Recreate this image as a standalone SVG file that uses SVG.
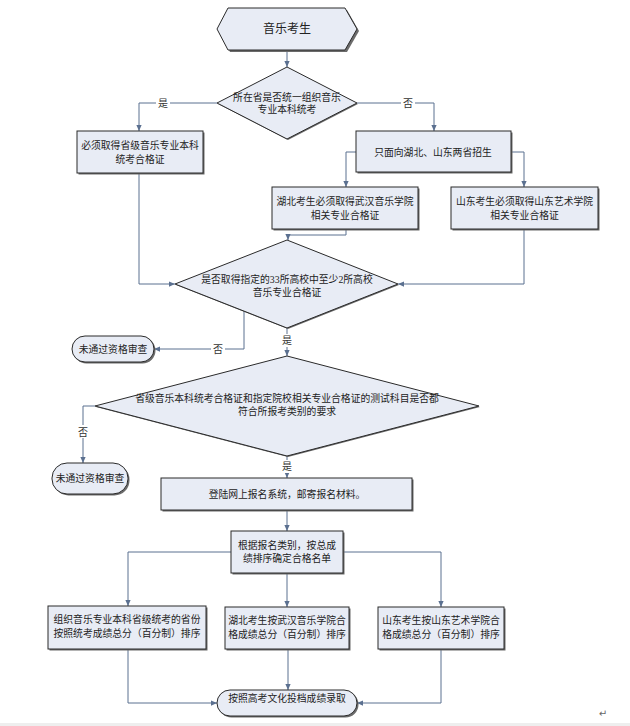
<svg xmlns="http://www.w3.org/2000/svg" width="630" height="726" viewBox="0 0 630 726">
<defs>
<style>
.sh{fill:#6b6b6b;stroke:none}
.nd{fill:#e8ecf5;stroke:#2a2a2a;stroke-width:1}
.t{font-family:"Liberation Serif","Noto Sans CJK SC",serif;font-size:9.8px;fill:#222;text-anchor:middle}
.big{font-size:12px}
.lbl{font-family:"Liberation Serif","Noto Sans CJK SC",serif;font-size:10px;fill:#333;text-anchor:middle}
.c{fill:none;stroke:#5b7090;stroke-width:1}
.bg{fill:#fff}
</style>
<marker id="ah" viewBox="0 0 8 8" refX="8" refY="4" markerWidth="6" markerHeight="6" orient="auto" markerUnits="userSpaceOnUse">
<path d="M0,0.5 L8,4 L0,7.5 Z" fill="#5b7090"/>
</marker>
</defs>
<rect x="0" y="0" width="630" height="726" fill="#fff"/>
<rect x="0" y="723" width="630" height="3" fill="#eeeeee"/>

<g id="connectors">
<path class="c" d="M287,50 V67" marker-end="url(#ah)"/>
<path class="c" d="M217,103 H139 V131" marker-end="url(#ah)"/>
<path class="c" d="M357,103 H434 V131" marker-end="url(#ah)"/>
<path class="c" d="M356,152 H346 V187" marker-end="url(#ah)"/>
<path class="c" d="M511,152 H524 V187" marker-end="url(#ah)"/>
<path class="c" d="M346,229 V235 H288 V240" marker-end="url(#ah)"/>
<path class="c" d="M139,173 V284 H175" marker-end="url(#ah)"/>
<path class="c" d="M524,229 V284 H398" marker-end="url(#ah)"/>
<path class="c" d="M244,311 V349 H154" marker-end="url(#ah)"/>
<path class="c" d="M287,328 V356" marker-end="url(#ah)"/>
<path class="c" d="M95,406 H83 V463" marker-end="url(#ah)"/>
<path class="c" d="M287,456 V478" marker-end="url(#ah)"/>
<path class="c" d="M287,510 V531" marker-end="url(#ah)"/>
<path class="c" d="M231,552 H128 V606" marker-end="url(#ah)"/>
<path class="c" d="M287,573 V607" marker-end="url(#ah)"/>
<path class="c" d="M343,552 H441 V607" marker-end="url(#ah)"/>
<path class="c" d="M128,649 V703 H217" marker-end="url(#ah)"/>
<path class="c" d="M288,649 V690" marker-end="url(#ah)"/>
<path class="c" d="M441,649 V703 H357" marker-end="url(#ah)"/>
<rect class="bg" x="156" y="96" width="14" height="13"/>
<text class="lbl" x="163" y="107">是</text>
<rect class="bg" x="401" y="96" width="14" height="13"/>
<text class="lbl" x="408" y="107">否</text>
<rect class="bg" x="211" y="342" width="14" height="13"/>
<text class="lbl" x="218" y="353">否</text>
<rect class="bg" x="280" y="334" width="14" height="13"/>
<text class="lbl" x="287" y="344">是</text>
<rect class="bg" x="76" y="425" width="14" height="13"/>
<text class="lbl" x="83" y="436">否</text>
<rect class="bg" x="280" y="460" width="14" height="13"/>
<text class="lbl" x="287" y="470">是</text>
</g>

<g id="start">
<polygon class="sh" points="219,31 230,10 347,10 359,31 347,52 230,52"/>
<polygon class="nd" points="217,29 228,8 345,8 357,29 345,50 228,50"/>
<text class="t big" x="287" y="33">音乐考生</text>
</g>

<g id="d1">
<polygon class="sh" points="288,68 358,104 288,140 218,104"/>
<polygon class="nd" points="287,67 357,103 287,139 217,103"/>
<text class="t" x="287" y="101">所在省是否统一组织音乐</text>
<text class="t" x="287" y="113">专业本科统考</text>
</g>

<g id="b1">
<rect class="sh" x="78.5" y="132.5" width="126" height="42"/>
<rect class="nd" x="77" y="131" width="126" height="42"/>
<text class="t" x="140" y="149">必须取得省级音乐专业本科</text>
<text class="t" x="140" y="163">统考合格证</text>
</g>

<g id="b2">
<rect class="sh" x="357.5" y="132.5" width="155" height="41"/>
<rect class="nd" x="356" y="131" width="155" height="41"/>
<text class="t" x="433" y="156">只面向湖北、山东两省招生</text>
</g>

<g id="b3">
<rect class="sh" x="273.5" y="188.5" width="146" height="42"/>
<rect class="nd" x="272" y="187" width="146" height="42"/>
<text class="t" x="345" y="205">湖北考生必须取得武汉音乐学院</text>
<text class="t" x="345" y="219">相关专业合格证</text>
</g>

<g id="b4">
<rect class="sh" x="452.5" y="188.5" width="147" height="42"/>
<rect class="nd" x="451" y="187" width="147" height="42"/>
<text class="t" x="524.5" y="205">山东考生必须取得山东艺术学院</text>
<text class="t" x="524.5" y="219">相关专业合格证</text>
</g>

<g id="d2">
<polygon class="sh" points="288,241 399,285 288,329 176,285"/>
<polygon class="nd" points="287,240 398,284 287,328 175,284"/>
<text class="t" x="287" y="283">是否取得指定的33所高校中至少2所高校</text>
<text class="t" x="287" y="296">音乐专业合格证</text>
</g>

<g id="e1">
<rect class="sh" x="73.5" y="337.5" width="82" height="26" rx="13"/>
<rect class="nd" x="72" y="336" width="82" height="26" rx="13"/>
<text class="t" x="113" y="353">未通过资格审查</text>
</g>

<g id="d3">
<polygon class="sh" points="288,357 480,407 288,457 96,407"/>
<polygon class="nd" points="287,356 479,406 287,456 95,406"/>
<text class="t" x="287" y="402">省级音乐本科统考合格证和指定院校相关专业合格证的测试科目是否都</text>
<text class="t" x="287" y="415">符合所报考类别的要求</text>
</g>

<g id="e2">
<rect class="sh" x="53.5" y="464.5" width="76" height="31" rx="15"/>
<rect class="nd" x="52" y="463" width="76" height="31" rx="15"/>
<text class="t" x="90" y="482">未通过资格审查</text>
</g>

<g id="b5">
<rect class="sh" x="162.5" y="479.5" width="251" height="32"/>
<rect class="nd" x="161" y="478" width="251" height="32"/>
<text class="t" x="287" y="498">登陆网上报名系统，邮寄报名材料。</text>
</g>

<g id="b6">
<rect class="sh" x="232.5" y="532.5" width="112" height="42"/>
<rect class="nd" x="231" y="531" width="112" height="42"/>
<text class="t" x="287" y="549">根据报名类别，按总成</text>
<text class="t" x="287" y="562">绩排序确定合格名单</text>
</g>

<g id="b7">
<rect class="sh" x="49.5" y="607.5" width="158" height="43"/>
<rect class="nd" x="48" y="606" width="158" height="43"/>
<text class="t" x="127" y="623">组织音乐专业本科省级统考的省份</text>
<text class="t" x="127" y="637">按照统考成绩总分（百分制）排序</text>
</g>

<g id="b8">
<rect class="sh" x="226.5" y="608.5" width="124" height="42"/>
<rect class="nd" x="225" y="607" width="124" height="42"/>
<text class="t" x="287" y="624">湖北考生按武汉音乐学院合</text>
<text class="t" x="287" y="638">格成绩总分（百分制）排序</text>
</g>

<g id="b9">
<rect class="sh" x="379.5" y="608.5" width="126" height="42"/>
<rect class="nd" x="378" y="607" width="126" height="42"/>
<text class="t" x="441" y="624">山东考生按山东艺术学院合</text>
<text class="t" x="441" y="638">格成绩总分（百分制）排序</text>
</g>

<g id="end">
<rect class="sh" x="218.5" y="691.5" width="140" height="26" rx="13"/>
<rect class="nd" x="217" y="690" width="140" height="26" rx="13"/>
<text class="t" x="287" y="702">按照高考文化投档成绩录取</text>
</g>

<text x="603" y="717" font-family="DejaVu Sans,sans-serif" font-size="10" fill="#666" text-anchor="middle">↵</text>
</svg>
